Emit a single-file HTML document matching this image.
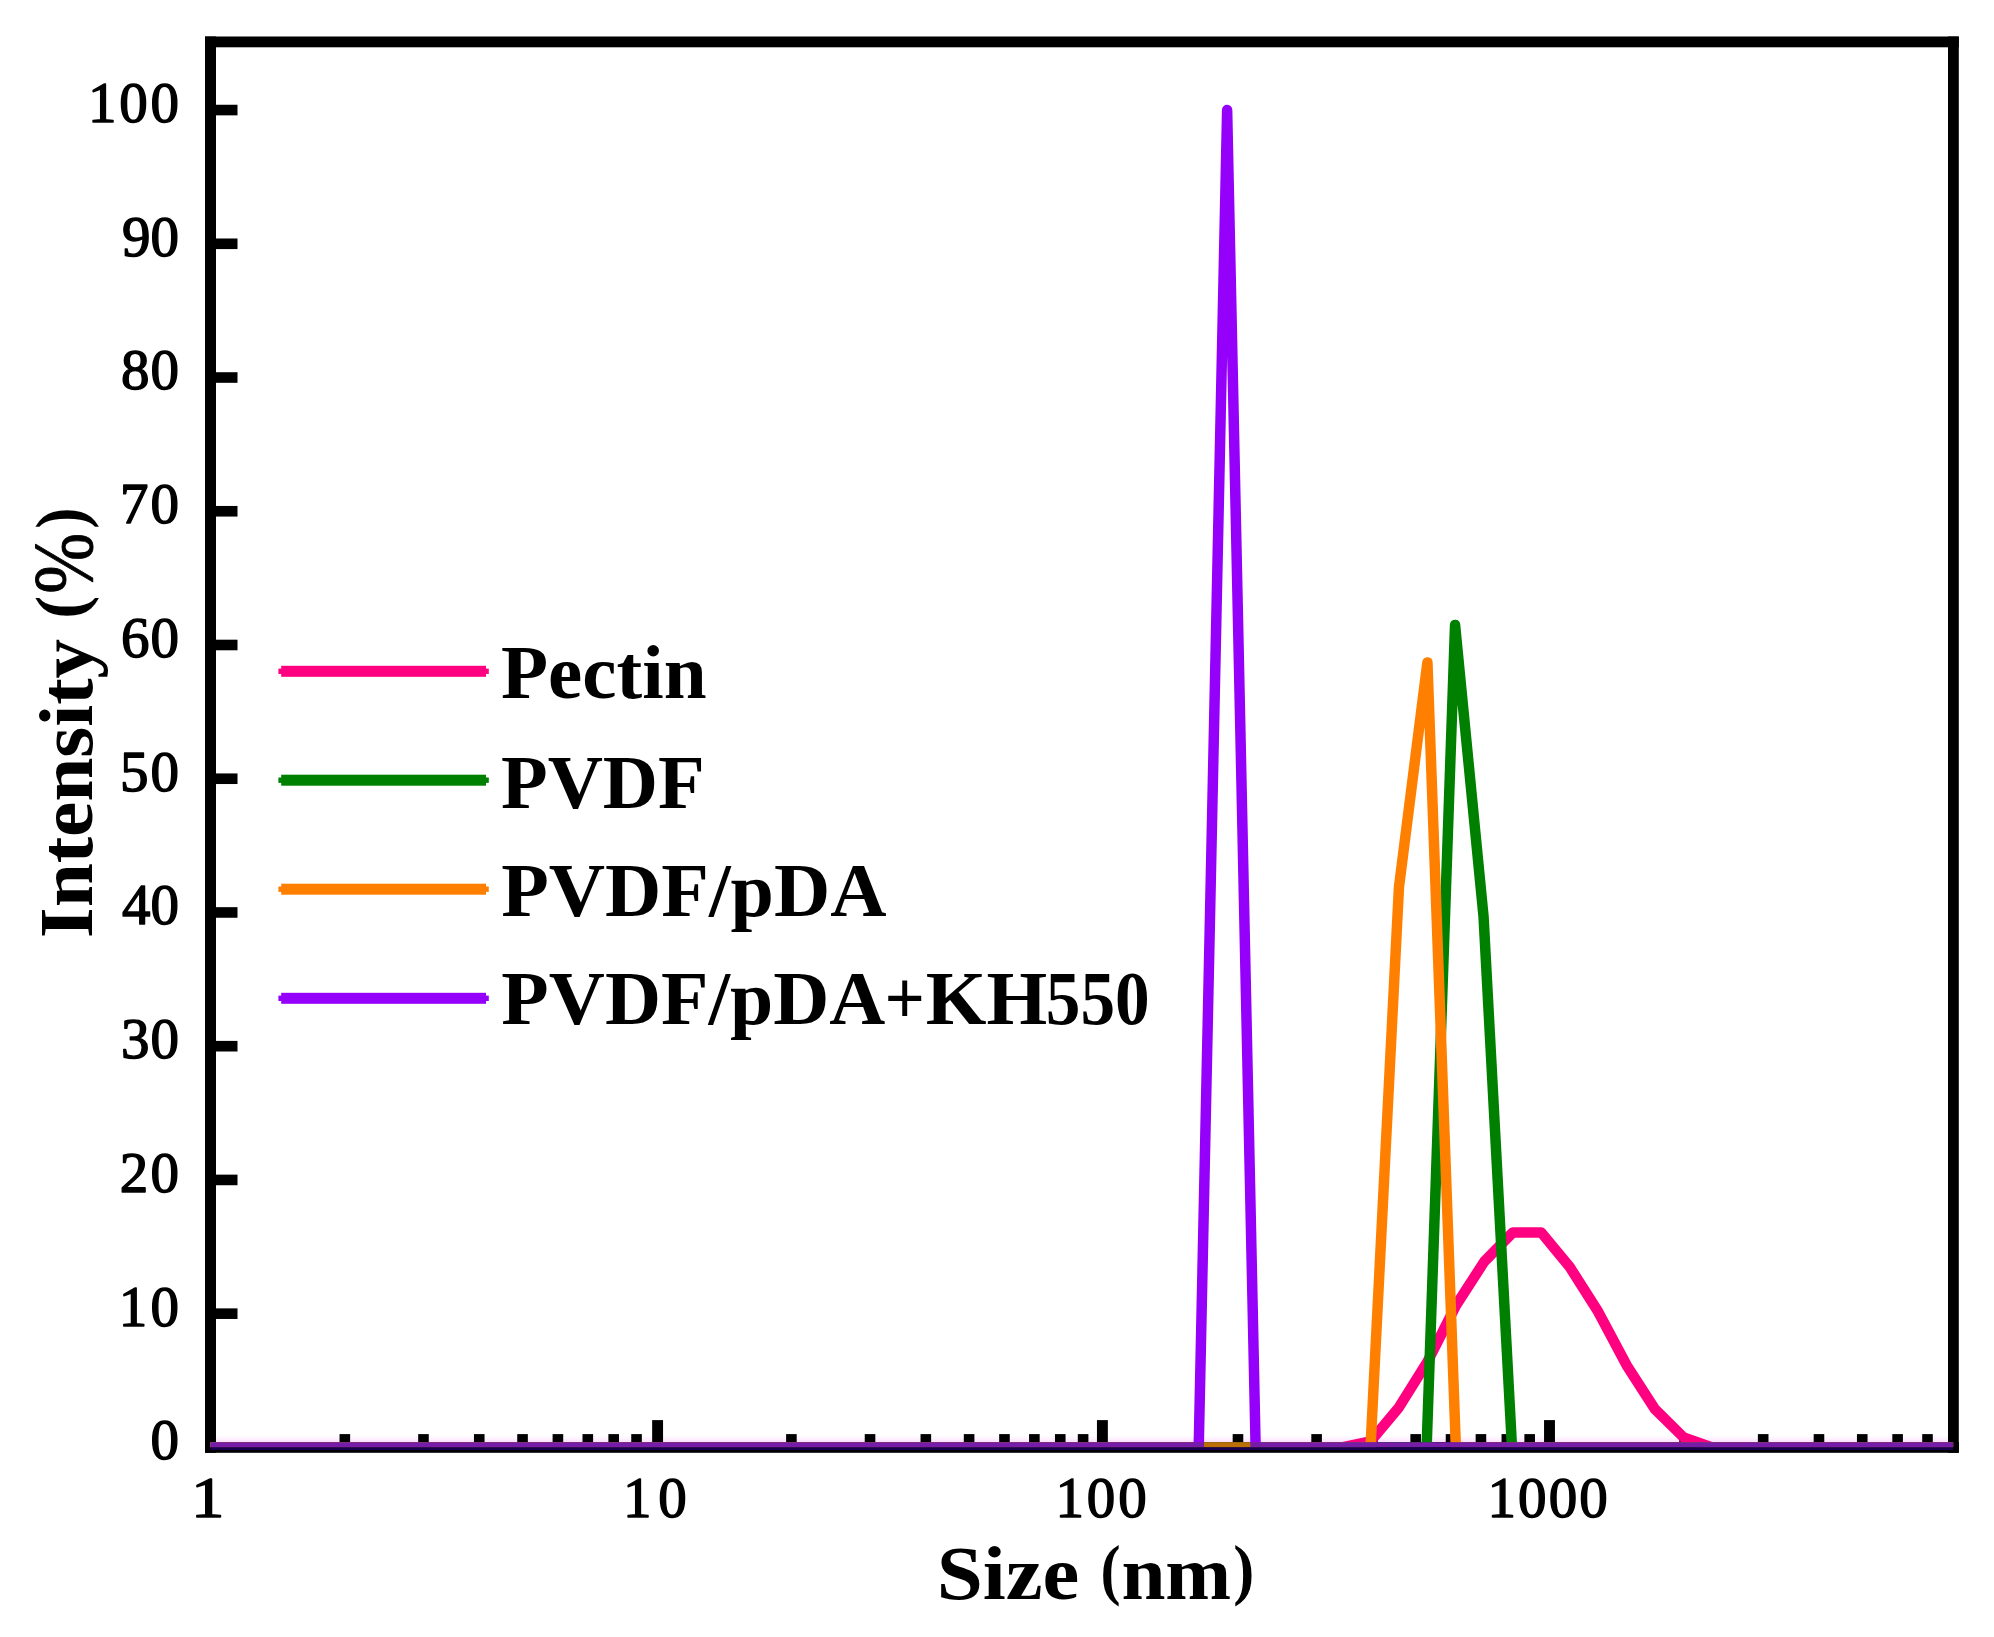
<!DOCTYPE html>
<html lang="en"><head><meta charset="utf-8"><title>Intensity vs Size</title>
<style>html,body{margin:0;padding:0;background:#fff}svg{display:block}text{font-family:"Liberation Serif",serif;fill:#000}.b{font-weight:bold}.t{font-weight:normal;stroke:#000;stroke-width:1.4px;stroke-linejoin:round}</style>
</head><body>
<svg width="1994" height="1637" viewBox="0 0 1994 1637">
<rect width="1994" height="1637" fill="#fff"/>
<defs><clipPath id="c"><rect x="210.4" y="41.9" width="1742.7" height="1405.4"/></clipPath>
<linearGradient id="halo" x1="0" y1="0" x2="0" y2="1"><stop offset="0" stop-color="#fde6ff" stop-opacity="0"/><stop offset="1" stop-color="#fde0ff" stop-opacity="1"/></linearGradient>
</defs>
<rect x="216.0" y="1435.5" width="1732.0" height="6.5" fill="url(#halo)"/>
<g fill="#000">
<rect x="205.0" y="36.5" width="1753.8" height="10.8"/>
<rect x="205.0" y="1442.0" width="1753.8" height="10.8"/>
<rect x="205.0" y="36.5" width="11.0" height="1416.3"/>
<rect x="1948.0" y="36.5" width="10.8" height="1416.3"/>
<rect x="215.0" y="1308.37" width="22.5" height="10.6"/>
<rect x="215.0" y="1174.63" width="22.5" height="10.6"/>
<rect x="215.0" y="1040.90" width="22.5" height="10.6"/>
<rect x="215.0" y="907.16" width="22.5" height="10.6"/>
<rect x="215.0" y="773.43" width="22.5" height="10.6"/>
<rect x="215.0" y="639.69" width="22.5" height="10.6"/>
<rect x="215.0" y="505.96" width="22.5" height="10.6"/>
<rect x="215.0" y="372.22" width="22.5" height="10.6"/>
<rect x="215.0" y="238.49" width="22.5" height="10.6"/>
<rect x="215.0" y="104.75" width="22.5" height="10.6"/>
<rect x="652.15" y="1420.1" width="10.9" height="23"/>
<rect x="1096.95" y="1420.1" width="10.9" height="23"/>
<rect x="1544.05" y="1420.1" width="10.9" height="23"/>
<rect x="339.53" y="1434.1" width="10.6" height="9"/>
<rect x="418.17" y="1434.1" width="10.6" height="9"/>
<rect x="473.96" y="1434.1" width="10.6" height="9"/>
<rect x="517.24" y="1434.1" width="10.6" height="9"/>
<rect x="552.60" y="1434.1" width="10.6" height="9"/>
<rect x="582.50" y="1434.1" width="10.6" height="9"/>
<rect x="608.39" y="1434.1" width="10.6" height="9"/>
<rect x="631.24" y="1434.1" width="10.6" height="9"/>
<rect x="786.10" y="1434.1" width="10.6" height="9"/>
<rect x="864.74" y="1434.1" width="10.6" height="9"/>
<rect x="920.53" y="1434.1" width="10.6" height="9"/>
<rect x="963.81" y="1434.1" width="10.6" height="9"/>
<rect x="999.17" y="1434.1" width="10.6" height="9"/>
<rect x="1029.07" y="1434.1" width="10.6" height="9"/>
<rect x="1054.96" y="1434.1" width="10.6" height="9"/>
<rect x="1077.81" y="1434.1" width="10.6" height="9"/>
<rect x="1232.67" y="1434.1" width="10.6" height="9"/>
<rect x="1311.31" y="1434.1" width="10.6" height="9"/>
<rect x="1367.10" y="1434.1" width="10.6" height="9"/>
<rect x="1410.38" y="1434.1" width="10.6" height="9"/>
<rect x="1445.74" y="1434.1" width="10.6" height="9"/>
<rect x="1475.64" y="1434.1" width="10.6" height="9"/>
<rect x="1501.53" y="1434.1" width="10.6" height="9"/>
<rect x="1524.38" y="1434.1" width="10.6" height="9"/>
<rect x="1679.24" y="1434.1" width="10.6" height="9"/>
<rect x="1757.88" y="1434.1" width="10.6" height="9"/>
<rect x="1813.67" y="1434.1" width="10.6" height="9"/>
<rect x="1856.95" y="1434.1" width="10.6" height="9"/>
<rect x="1892.31" y="1434.1" width="10.6" height="9"/>
<rect x="1922.21" y="1434.1" width="10.6" height="9"/>
</g>
<g clip-path="url(#c)">
<polyline points="32.69,1447.40 1342.02,1447.40 1370.50,1441.38 1398.96,1407.28 1427.42,1361.81 1455.86,1305.64 1484.34,1261.51 1512.80,1232.49 1541.26,1232.49 1569.65,1266.86 1598.14,1311.66 1626.67,1365.29 1655.06,1409.29 1683.57,1437.37 1712.07,1447.40 1996.68,1447.40" fill="none" stroke="#FF0080" stroke-width="10.5" stroke-linejoin="round" stroke-linecap="butt"/>
<polyline points="31.89,1447.40 1426.62,1447.40 1455.06,624.93 1483.54,916.47 1512.00,1447.40 1995.88,1447.40" fill="none" stroke="#008000" stroke-width="10.5" stroke-linejoin="round" stroke-linecap="butt"/>
<polyline points="32.69,1447.40 1370.50,1447.40 1398.96,887.05 1427.42,662.38 1455.86,1447.40 1996.68,1447.40" fill="none" stroke="#FF8000" stroke-width="10.5" stroke-linejoin="round" stroke-linecap="butt"/>
<polyline points="31.69,1447.40 1198.72,1447.40 1227.13,110.05 1255.63,1447.40 1995.68,1447.40" fill="none" stroke="#9400FA" stroke-width="10.5" stroke-linejoin="round" stroke-linecap="butt"/>
</g>
<rect x="210.4" y="1442.0" width="1742.7" height="5.3" fill="#3e5010" fill-opacity="0.35"/>
<rect x="210.4" y="1447.3" width="1742.7" height="2.7" fill="#1a004c"/>
<rect x="281.2" y="665.8" width="204.8" height="11" fill="#FF0080"/>
<rect x="278.4" y="668.6" width="210.4" height="5.4" fill="#FF0080"/>
<rect x="281.2" y="774.7" width="204.8" height="11" fill="#008000"/>
<rect x="278.4" y="777.5" width="210.4" height="5.4" fill="#008000"/>
<rect x="281.2" y="883.7" width="204.8" height="11" fill="#FF8000"/>
<rect x="278.4" y="886.5" width="210.4" height="5.4" fill="#FF8000"/>
<rect x="281.2" y="992.8" width="204.8" height="11" fill="#9400FA"/>
<rect x="278.4" y="995.6" width="210.4" height="5.4" fill="#9400FA"/>
<text class="b" x="500.99" y="698.3" font-size="76" textLength="205.59" lengthAdjust="spacingAndGlyphs">Pectin</text>
<text class="b" x="500.99" y="807.6" font-size="76" textLength="203.75" lengthAdjust="spacingAndGlyphs">PVDF</text>
<text class="b" x="501.17" y="916.0" font-size="76" textLength="385.31" lengthAdjust="spacingAndGlyphs">PVDF/pDA</text>
<text><tspan class="b" x="501.38" y="1024.4" font-size="76" textLength="384.00" lengthAdjust="spacingAndGlyphs">PVDF/pDA</tspan><tspan class="b" x="884.47" y="1024.4" font-size="76" textLength="40.42" lengthAdjust="spacingAndGlyphs">+</tspan><tspan class="b" x="925.77" y="1024.4" font-size="76" textLength="121.47" lengthAdjust="spacingAndGlyphs">KH</tspan><tspan class="b" x="1045.77" y="1024.4" font-size="76" textLength="103.86" lengthAdjust="spacingAndGlyphs">550</tspan></text>
<text><tspan class="b" x="936.74" y="1598.6" font-size="76" textLength="142.65" lengthAdjust="spacingAndGlyphs">Size</tspan><tspan> </tspan><tspan class="b" x="1100.40" y="1591.6" font-size="67" textLength="20.08" lengthAdjust="spacingAndGlyphs">(</tspan><tspan class="b" x="1121.42" y="1598.6" font-size="76" textLength="109.80" lengthAdjust="spacingAndGlyphs">nm</tspan><tspan class="b" x="1233.31" y="1591.6" font-size="67" textLength="21.07" lengthAdjust="spacingAndGlyphs">)</tspan></text>
<g transform="translate(91.5,936.1) rotate(-90)">
<text><tspan class="b" x="-2.09" y="0.0" font-size="76" textLength="299.39" lengthAdjust="spacingAndGlyphs">Intensity</tspan><tspan> </tspan><tspan class="b" x="317.30" y="-7.6" font-size="69" textLength="22.98" lengthAdjust="spacingAndGlyphs">(</tspan><tspan class="t" style="stroke-width:0.9px" x="342.43" y="0.0" font-size="85" textLength="60.94" lengthAdjust="spacingAndGlyphs">%</tspan><tspan class="b" x="407.36" y="-7.6" font-size="69" textLength="21.19" lengthAdjust="spacingAndGlyphs">)</tspan></text>
</g>
<text class="t" x="150.50" y="1459.2" font-size="57" textLength="28.50" lengthAdjust="spacingAndGlyphs">0</text>
<text class="t" x="118.70" y="1325.5" font-size="57" textLength="60.30" lengthAdjust="spacing">10</text>
<text class="t" x="119.70" y="1191.7" font-size="57" textLength="59.30" lengthAdjust="spacing">20</text>
<text class="t" x="120.90" y="1058.0" font-size="57" textLength="58.10" lengthAdjust="spacing">30</text>
<text class="t" x="121.90" y="924.3" font-size="57" textLength="57.10" lengthAdjust="spacing">40</text>
<text class="t" x="119.90" y="790.5" font-size="57" textLength="59.10" lengthAdjust="spacing">50</text>
<text class="t" x="120.90" y="656.8" font-size="57" textLength="58.10" lengthAdjust="spacing">60</text>
<text class="t" x="119.90" y="523.1" font-size="57" textLength="59.10" lengthAdjust="spacing">70</text>
<text class="t" x="120.90" y="389.3" font-size="57" textLength="58.10" lengthAdjust="spacing">80</text>
<text class="t" x="121.90" y="255.6" font-size="57" textLength="57.10" lengthAdjust="spacing">90</text>
<text class="t" x="88.10" y="121.9" font-size="57" textLength="90.90" lengthAdjust="spacing">100</text>
<text class="t" x="191.04" y="1517.1" font-size="57" textLength="33.39" lengthAdjust="spacingAndGlyphs">1</text>
<text class="t" x="622.90" y="1517.1" font-size="57" textLength="63.80" lengthAdjust="spacing">10</text>
<text class="t" x="1055.40" y="1517.1" font-size="57" textLength="91.30" lengthAdjust="spacing">100</text>
<text class="t" x="1487.50" y="1517.1" font-size="57" textLength="120.20" lengthAdjust="spacing">1000</text>
</svg>
</body></html>
